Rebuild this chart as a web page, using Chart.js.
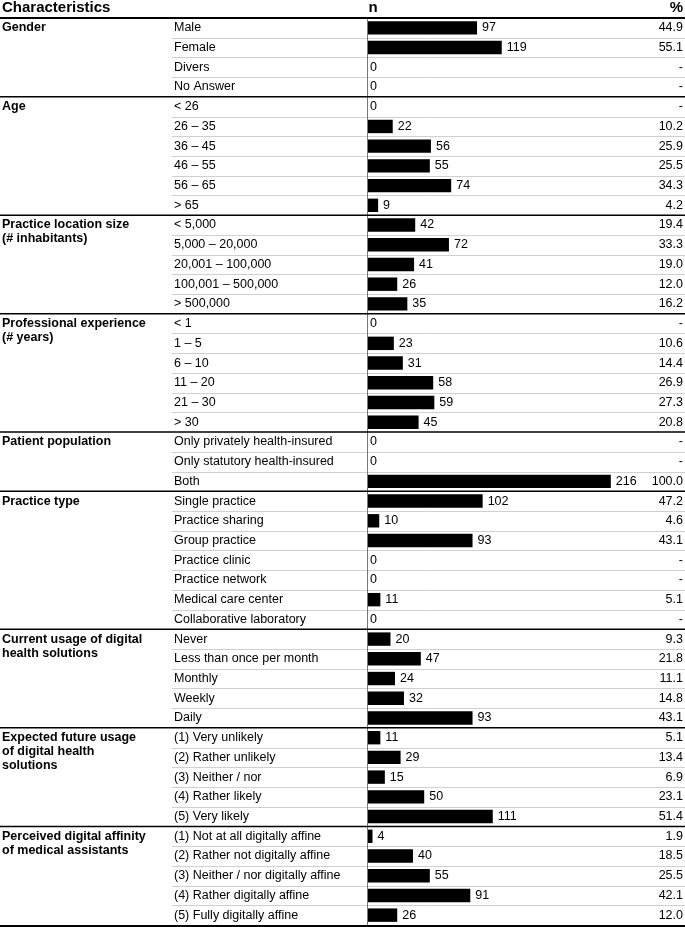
<!DOCTYPE html>
<html>
<head>
<meta charset="utf-8">
<script src="https://cdn.jsdelivr.net/npm/chart.js@4/dist/chart.umd.min.js"></script>
<style>
  html, body { margin: 0; padding: 0; background: #fff; }
  canvas { display: block; }
</style>
</head>
<body>
<canvas id="chart" width="685" height="927"></canvas>
<script>
/* ─── Data ─── */
const groupNames = [
  'Gender',
  'Age',
  'Practice location size\n(# inhabitants)',
  'Professional experience\n(# years)',
  'Patient population',
  'Practice type',
  'Current usage of digital\nhealth solutions',
  'Expected future usage\nof digital health\nsolutions',
  'Perceived digital affinity\nof medical assistants',
];
const groupSizes = [4, 6, 5, 6, 3, 7, 5, 5, 5];

const categories = [
  'Male', 'Female', 'Divers', 'No Answer',
  '< 26', '26 – 35', '36 – 45', '46 – 55', '56 – 65', '> 65',
  '< 5,000', '5,000 – 20,000', '20,001 – 100,000', '100,001 – 500,000', '> 500,000',
  '< 1', '1 – 5', '6 – 10', '11 – 20', '21 – 30', '> 30',
  'Only privately health-insured', 'Only statutory health-insured', 'Both',
  'Single practice', 'Practice sharing', 'Group practice', 'Practice clinic',
  'Practice network', 'Medical care center', 'Collaborative laboratory',
  'Never', 'Less than once per month', 'Monthly', 'Weekly', 'Daily',
  '(1) Very unlikely', '(2) Rather unlikely', '(3) Neither / nor', '(4) Rather likely', '(5) Very likely',
  '(1) Not at all digitally affine', '(2) Rather not digitally affine',
  '(3) Neither / nor digitally affine', '(4) Rather digitally affine', '(5) Fully digitally affine',
];

const counts = [
  97, 119, 0, 0,
  0, 22, 56, 55, 74, 9,
  42, 72, 41, 26, 35,
  0, 23, 31, 58, 59, 45,
  0, 0, 216,
  102, 10, 93, 0, 0, 11, 0,
  20, 47, 24, 32, 93,
  11, 29, 15, 50, 111,
  4, 40, 55, 91, 26,
];

const percents = [
  44.9, 55.1, 0, 0,
  0, 10.2, 25.9, 25.5, 34.3, 4.2,
  19.4, 33.3, 19.0, 12.0, 16.2,
  0, 10.6, 14.4, 26.9, 27.3, 20.8,
  0, 0, 100.0,
  47.2, 4.6, 43.1, 0, 0, 5.1, 0,
  9.3, 21.8, 11.1, 14.8, 43.1,
  5.1, 13.4, 6.9, 23.1, 51.4,
  1.9, 18.5, 25.5, 42.1, 12.0,
];

/* ─── Style ─── */
const FONT = "'Liberation Sans Narrow', 'Liberation Sans', Arial, sans-serif";
const LABEL_X = 174;
const HEADER_Y = 18;
const GROUP_LINE_H = 14;

/* ─── Table plugin: labels, separators, values ─── */
const tablePlugin = {
  id: 'table',
  beforeDatasetsDraw(chart) {
    const { ctx, scales: { x, y }, chartArea } = chart;
    const W = chart.width;
    const half = (y.getPixelForValue(1) - y.getPixelForValue(0)) / 2;
    ctx.save();

    // thin row separators
    ctx.strokeStyle = '#d0d0d0';
    ctx.lineWidth = 1;
    let start = 0;
    groupSizes.forEach(size => {
      for (let i = start; i < start + size - 1; i++) {
        const yy = Math.round(y.getPixelForValue(i) + half) + 0.5;
        ctx.beginPath();
        ctx.moveTo(LABEL_X - 2, yy);
        ctx.lineTo(W, yy);
        ctx.stroke();
      }
      start += size;
    });

    // axis line at zero
    const x0 = Math.round(x.getPixelForValue(0)) - 0.5;
    ctx.strokeStyle = '#777';
    ctx.beginPath();
    ctx.moveTo(x0, HEADER_Y);
    ctx.lineTo(x0, chartArea.bottom);
    ctx.stroke();

    // group separators
    ctx.strokeStyle = '#000';
    ctx.lineWidth = 1.5;
    start = 0;
    groupSizes.forEach((size, g) => {
      if (g > 0) {
        const yy = y.getPixelForValue(start) - half;
        ctx.beginPath();
        ctx.moveTo(0, yy);
        ctx.lineTo(W, yy);
        ctx.stroke();
      }
      start += size;
    });

    // header underline + bottom line
    ctx.lineWidth = 2;
    ctx.beginPath();
    ctx.moveTo(0, HEADER_Y);
    ctx.lineTo(W, HEADER_Y);
    ctx.moveTo(0, chartArea.bottom + 1);
    ctx.lineTo(W, chartArea.bottom + 1);
    ctx.stroke();

    // header text
    ctx.fillStyle = '#000';
    ctx.textBaseline = 'middle';
    ctx.font = `bold 15px ${FONT}`;
    ctx.textAlign = 'left';
    ctx.fillText('Characteristics', 2, 8);
    ctx.fillText('n', x0 + 1, 8);
    ctx.textAlign = 'right';
    ctx.fillText('%', W - 2, 8);

    // group labels
    ctx.textAlign = 'left';
    ctx.font = `bold 12.5px ${FONT}`;
    start = 0;
    groupNames.forEach((name, g) => {
      const top = y.getPixelForValue(start);
      name.split('\n').forEach((line, k) => {
        ctx.fillText(line, 2, top + k * GROUP_LINE_H);
      });
      start += groupSizes[g];
    });

    // category labels
    ctx.font = `12.5px ${FONT}`;
    categories.forEach((c, i) => {
      ctx.fillText(c, LABEL_X, y.getPixelForValue(i));
    });
    ctx.restore();
  },
  afterDatasetsDraw(chart) {
    const { ctx, scales: { x, y } } = chart;
    const W = chart.width;
    ctx.save();
    ctx.fillStyle = '#000';
    ctx.textBaseline = 'middle';
    ctx.font = `12.5px ${FONT}`;
    counts.forEach((v, i) => {
      const yy = y.getPixelForValue(i);
      ctx.textAlign = 'left';
      ctx.fillText(String(v), x.getPixelForValue(v) + (v ? 5 : 2), yy);
      ctx.textAlign = 'right';
      const p = percents[i];
      ctx.fillText(p ? p.toFixed(1) : '-', W - 2, yy);
    });
    ctx.restore();
  },
};

new Chart(document.getElementById('chart'), {
  type: 'bar',
  data: {
    labels: categories,
    datasets: [{
      data: counts,
      backgroundColor: '#000',
      borderWidth: 0,
      barPercentage: 0.68,
      categoryPercentage: 1,
    }],
  },
  options: {
    indexAxis: 'y',
    responsive: false,
    animation: false,
    layout: { padding: { left: 368, right: 0, top: HEADER_Y, bottom: 2 } },
    plugins: { legend: { display: false }, tooltip: { enabled: false } },
    scales: {
      x: { display: false, min: 0, max: 282 },
      y: { display: false },
    },
  },
  plugins: [tablePlugin],
});
</script>
</body>
</html>
